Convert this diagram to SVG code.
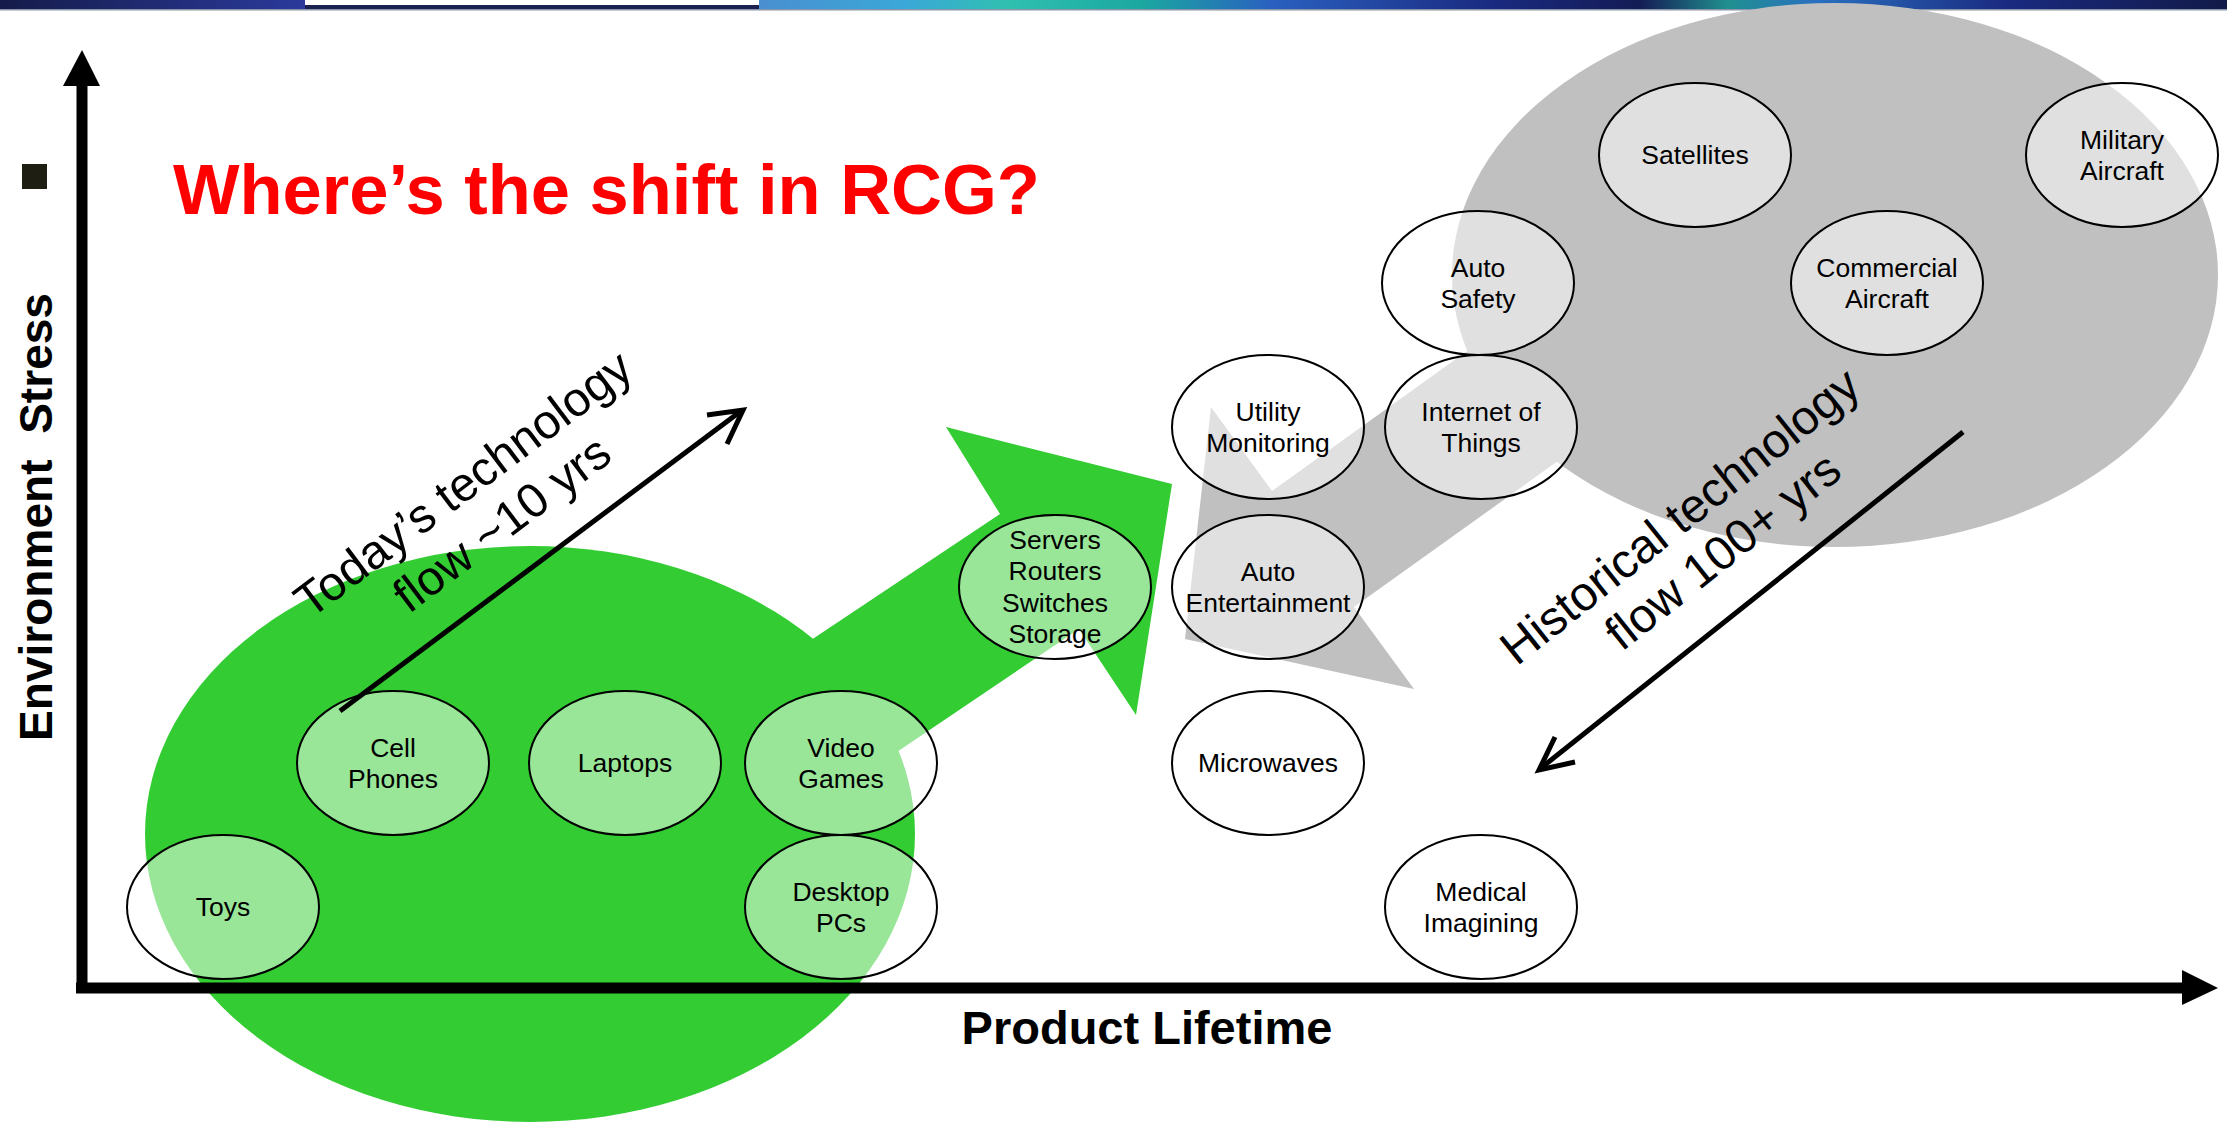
<svg xmlns="http://www.w3.org/2000/svg" width="2227" height="1123" viewBox="0 0 2227 1123">
<defs>
<style>
.node ellipse{fill:#ffffff;fill-opacity:0.5;stroke:#000;stroke-width:2}
.node text{font-family:"Liberation Sans",Arial,sans-serif;font-size:26.5px;fill:#000;text-anchor:middle}
.flow{fill:none;stroke:#000;stroke-width:5;stroke-linejoin:miter;stroke-linecap:butt}
.flowtxt{font-family:"Liberation Sans",Arial,sans-serif;font-size:48px;fill:#000;text-anchor:middle}
.axis{font-family:"Liberation Sans",Arial,sans-serif;font-weight:bold;font-size:47px;fill:#000;text-anchor:middle}
</style>
<linearGradient id="bandL" x1="0" y1="0" x2="305" y2="0" gradientUnits="userSpaceOnUse">
<stop offset="0" stop-color="#151c4a"/><stop offset="1" stop-color="#2b3a9c"/>
</linearGradient>
<linearGradient id="bandR" x1="759" y1="0" x2="2227" y2="0" gradientUnits="userSpaceOnUse">
<stop offset="0" stop-color="#4a8fd0"/>
<stop offset="0.1" stop-color="#3aa8d8"/>
<stop offset="0.17" stop-color="#30c0b0"/>
<stop offset="0.26" stop-color="#1aa8a0"/>
<stop offset="0.35" stop-color="#2a60c0"/>
<stop offset="0.5" stop-color="#1a2a80"/>
<stop offset="0.6" stop-color="#141c55"/>
<stop offset="0.66" stop-color="#209090"/>
<stop offset="0.72" stop-color="#2a70c0"/>
<stop offset="0.85" stop-color="#1a2a80"/>
<stop offset="1" stop-color="#121a48"/>
</linearGradient>
</defs>
<rect width="2227" height="1123" fill="#ffffff"/>
<g id="banner">
<rect x="0" y="0" width="305" height="9" fill="url(#bandL)"/>
<rect x="305" y="0" width="454" height="5" fill="#ffffff"/>
<rect x="305" y="5" width="454" height="4" fill="#1a2050"/>
<rect x="759" y="0" width="1468" height="9" fill="url(#bandR)"/>
<rect x="0" y="9" width="2227" height="1.5" fill="#8a96a8"/>
</g>
<g id="backdrop">
<ellipse cx="1835" cy="275" rx="383" ry="272" fill="#c0c0c0"/>
<polygon points="1520,313 1272,491 1211,407 1185,639 1414,689 1354,607 1600,431" fill="#c0c0c0"/>
<ellipse cx="530" cy="834" rx="385" ry="288" fill="#33cc33"/>
<polygon points="700,714 1000,514 946,427 1172,484 1136,715 1079,629 780,831" fill="#33cc33"/>
</g>
<g id="axes">
<line x1="82" y1="84" x2="82" y2="993" stroke="#000" stroke-width="11"/>
<polygon points="82,50 63,86 100,86" fill="#000"/>
<line x1="76" y1="988" x2="2184" y2="988" stroke="#000" stroke-width="11"/>
<polygon points="2182,970 2218,988 2182,1005" fill="#000"/>
<text class="axis" transform="translate(52,517) rotate(-90)" textLength="448" lengthAdjust="spacingAndGlyphs" xml:space="preserve">Environment  Stress</text>
<text class="axis" x="1147" y="1044">Product Lifetime</text>
</g>
<rect id="bullet" x="22" y="164" width="25" height="25" fill="#1e1e12"/>
<text id="title" x="173" y="214" font-family="'Liberation Sans',Arial,sans-serif" font-weight="bold" font-size="70.5" fill="#ff0000">Where’s the shift in RCG?</text>
<g id="n-toys" class="node"><ellipse cx="223" cy="907" rx="96" ry="72"/><text x="223" y="916">Toys</text></g>
<g id="n-cell" class="node"><ellipse cx="393" cy="763" rx="96" ry="72"/><text x="393" y="757">Cell</text><text x="393" y="788">Phones</text></g>
<g id="n-laptops" class="node"><ellipse cx="625" cy="763" rx="96" ry="72"/><text x="625" y="772">Laptops</text></g>
<g id="n-video" class="node"><ellipse cx="841" cy="763" rx="96" ry="72"/><text x="841" y="757">Video</text><text x="841" y="788">Games</text></g>
<g id="n-desktop" class="node"><ellipse cx="841" cy="907" rx="96" ry="72"/><text x="841" y="901">Desktop</text><text x="841" y="932">PCs</text></g>
<g id="n-servers" class="node"><ellipse cx="1055" cy="587" rx="96" ry="72"/><text x="1055" y="549">Servers</text><text x="1055" y="580">Routers</text><text x="1055" y="612">Switches</text><text x="1055" y="643">Storage</text></g>
<g id="n-utility" class="node"><ellipse cx="1268" cy="427" rx="96" ry="72"/><text x="1268" y="421">Utility</text><text x="1268" y="452">Monitoring</text></g>
<g id="n-autoent" class="node"><ellipse cx="1268" cy="587" rx="96" ry="72"/><text x="1268" y="581">Auto</text><text x="1268" y="612">Entertainment</text></g>
<g id="n-microwaves" class="node"><ellipse cx="1268" cy="763" rx="96" ry="72"/><text x="1268" y="772">Microwaves</text></g>
<g id="n-iot" class="node"><ellipse cx="1481" cy="427" rx="96" ry="72"/><text x="1481" y="421">Internet of</text><text x="1481" y="452">Things</text></g>
<g id="n-autosafety" class="node"><ellipse cx="1478" cy="283" rx="96" ry="72"/><text x="1478" y="277">Auto</text><text x="1478" y="308">Safety</text></g>
<g id="n-medical" class="node"><ellipse cx="1481" cy="907" rx="96" ry="72"/><text x="1481" y="901">Medical</text><text x="1481" y="932">Imagining</text></g>
<g id="n-satellites" class="node"><ellipse cx="1695" cy="155" rx="96" ry="72"/><text x="1695" y="164">Satellites</text></g>
<g id="n-commercial" class="node"><ellipse cx="1887" cy="283" rx="96" ry="72"/><text x="1887" y="277">Commercial</text><text x="1887" y="308">Aircraft</text></g>
<g id="n-military" class="node"><ellipse cx="2122" cy="155" rx="96" ry="72"/><text x="2122" y="149">Military</text><text x="2122" y="180">Aircraft</text></g>
<g id="connectors">
<line class="flow" x1="340" y1="711" x2="741" y2="411"/>
<polyline class="flow" points="707,415 743,410 727,444"/>
<line class="flow" x1="1963" y1="432" x2="1541" y2="768"/>
<polyline class="flow" points="1575,762 1539,770 1555,737"/>
</g>
<g id="flow-labels">
<g transform="translate(473,497) rotate(-37)"><text class="flowtxt" x="0" y="0">Today’s technology</text><text class="flowtxt" x="7" y="55">flow ~10 yrs</text></g>
<g transform="translate(1690,529) rotate(-38.5)"><text class="flowtxt" x="0" y="0">Historical technology</text><text class="flowtxt" x="12" y="54">flow 100+ yrs</text></g>
</g>
</svg>
